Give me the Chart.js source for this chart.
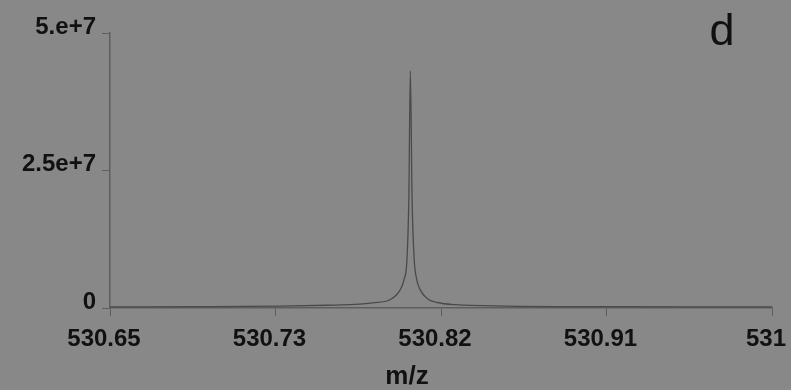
<!DOCTYPE html>
<html lang="en">
<head>
  <meta charset="UTF-8">
  <title>Mass spectrum d</title>
  <script src="https://cdn.jsdelivr.net/npm/chart.js"></script>
  <style>
    * { box-sizing: border-box; margin: 0; padding: 0; }
    html, body { width: 791px; height: 390px; background: #888888; overflow: hidden; }
    canvas { display: block; }
  </style>
</head>
<body>
  <canvas id="spec" width="791" height="390"></canvas>
  <script>
    // m/z values and intensities
    const mz = [530.65, 530.70, 530.74, 530.765, 530.782, 530.789, 530.798, 530.8034, 530.8055, 530.807, 530.808,
                530.8088, 530.8097, 530.8108, 530.8121, 530.814, 530.8182, 530.823, 530.8325, 530.86, 530.91, 530.96, 531];
    const intensity = [0.2e6, 0.25e6, 0.35e6, 0.5e6, 0.7e6, 0.95e6, 1.5e6, 3.3e6, 5.2e6, 8.8e6, 20e6,
                       43.1e6, 20e6, 9.0e6, 5.3e6, 3.3e6, 1.6e6, 1.0e6, 0.6e6, 0.35e6, 0.25e6, 0.2e6, 0.2e6];

    const xTicks = [530.65, 530.7375, 530.825, 530.9125, 531];
    const xTickLabels = ['530.65', '530.73', '530.82', '530.91', '531'];
    const yTicks = [0, 2.5e7, 5e7];
    const yTickLabels = ['0', '2.5e+7', '5.e+7'];

    const ink = '#111111';
    const axisColor = '#5e5e5e';
    const font = "'Liberation Sans', Arial, sans-serif";

    // panel letter and the axis name, placed where the original has them
    const extraText = {
      id: 'extraText',
      afterDraw(chart) {
        const ctx = chart.ctx;
        ctx.save();
        ctx.fillStyle = ink;
        ctx.textAlign = 'center';
        ctx.textBaseline = 'alphabetic';
        ctx.font = '45px ' + font;
        ctx.fillText('d', 722, 45);
        ctx.textBaseline = 'middle';
        ctx.font = 'bold 26px ' + font;
        ctx.fillText('m/z', 407, 377);
        ctx.restore();
      }
    };

    new Chart(document.getElementById('spec'), {
      type: 'line',
      data: {
        datasets: [{
          data: mz.map((m, i) => ({ x: m, y: intensity[i] })),
          borderColor: '#4a4a4a',
          borderWidth: 1.3,
          pointRadius: 0,
          cubicInterpolationMode: 'monotone',
          fill: false
        }]
      },
      options: {
        responsive: false,
        animation: false,
        devicePixelRatio: 1,
        layout: { padding: { left: 0, right: 19, top: 33, bottom: 0 } },
        plugins: { legend: { display: false }, tooltip: { enabled: false } },
        scales: {
          x: {
            type: 'linear',
            min: 530.65,
            max: 531,
            afterBuildTicks: s => { s.ticks = xTicks.map(v => ({ value: v })); },
            afterFit: s => { s.height = 82; s.paddingLeft = 0; s.paddingRight = 0; },
            grid: { drawOnChartArea: false, tickLength: 8, color: axisColor },
            border: { color: axisColor, width: 1.5 },
            ticks: {
              autoSkip: false,
              maxRotation: 0,
              padding: 9,
              labelOffset: -6,
              color: ink,
              font: { family: font, size: 24, weight: 'bold' },
              callback: (v, i) => xTickLabels[i]
            }
          },
          y: {
            min: 0,
            max: 5e7,
            afterBuildTicks: s => { s.ticks = yTicks.map(v => ({ value: v })); },
            afterFit: s => { s.width = 110; s.paddingTop = 0; s.paddingBottom = 0; },
            grid: { drawOnChartArea: false, tickLength: 8, color: axisColor },
            border: { color: axisColor, width: 1.5 },
            ticks: {
              padding: 6,
              labelOffset: -6,
              color: ink,
              font: { family: font, size: 24, weight: 'bold' },
              callback: (v, i) => yTickLabels[i]
            }
          }
        }
      },
      plugins: [extraText]
    });
  </script>
</body>
</html>
